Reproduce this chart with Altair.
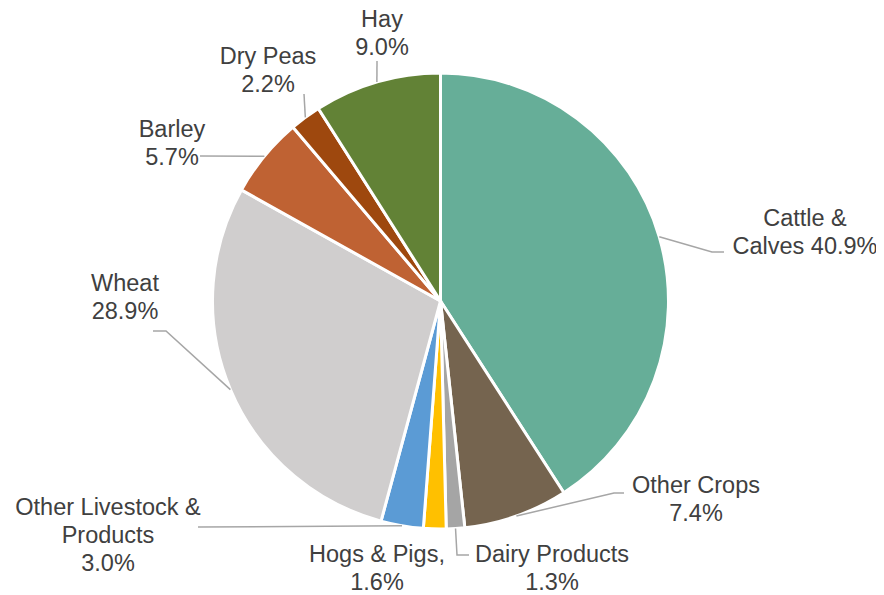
import altair as alt
import pandas as pd
import numpy as np

# ---- data ----
categories = ["Cattle & Calves", "Other Crops", "Dairy Products", "Hogs & Pigs",
              "Other Livestock & Products", "Wheat", "Barley", "Dry Peas", "Hay"]
values = [40.9, 7.4, 1.3, 1.6, 3.0, 28.9, 5.7, 2.2, 9.0]
colors = ["#66AE98", "#75644F", "#A5A5A5", "#FFC000", "#5B9BD5",
          "#D0CECE", "#BF6233", "#9E480E", "#628236"]
name_lines = [["Cattle &", "Calves {p}"], ["Other Crops", "{p}"], ["Dairy Products", "{p}"],
              ["Hogs & Pigs,", "{p}"], ["Other Livestock &", "Products", "{p}"],
              ["Wheat", "{p}"], ["Barley", "{p}"], ["Dry Peas", "{p}"], ["Hay", "{p}"]]

# ---- layout (chart pixels) ----
W, H = 868, 583
CX, CY, R = 432.5, 293.0, 228.0
LINE_H = 28
label_anchor = [(797, 218), (688, 485), (544, 554), (369, 554), (100, 507),
                (117, 283), (164, 129), (260, 56), (374, 19)]
leader_tail = [[(704, 244), (716, 244)], [(606, 485), (616, 485)], [(449, 547), (461, 547)],
               [], [(190, 519)], [(158, 323), (145, 323)], [(192, 148)], [(296, 86)], [(369, 53)]]

df = pd.DataFrame({"category": categories, "value": values, "order": range(len(values))})

total = sum(values)
cum = np.cumsum([0] + values[:-1])
text_rows, line_rows = [], []
for i, cat in enumerate(categories):
    pct = f"{values[i]:.1f}%"
    ax, ay = label_anchor[i]
    for k, ln in enumerate(name_lines[i]):
        text_rows.append({"x": ax, "y": ay + k * LINE_H, "t": ln.format(p=pct)})
    if leader_tail[i]:
        mid = (cum[i] + values[i] / 2) / total * 2 * np.pi
        pts = [(CX + R * np.sin(mid), CY - R * np.cos(mid))] + leader_tail[i]
        for j, (px, py) in enumerate(pts):
            line_rows.append({"cat": cat, "j": j, "x": px, "y": py})

tdf = pd.DataFrame(text_rows)
ldf = pd.DataFrame(line_rows)

xs = alt.Scale(domain=[0, W], nice=False, zero=False)
ys = alt.Scale(domain=[0, H], nice=False, zero=False, reverse=True)

pie = alt.Chart(df).mark_arc(radius=R, stroke="white", strokeWidth=3).encode(
    theta=alt.Theta("value:Q", stack=True),
    order=alt.Order("order:Q"),
    color=alt.Color("category:N", scale=alt.Scale(domain=categories, range=colors), legend=None),
    x=alt.value(CX), y=alt.value(CY),
)

leaders = alt.Chart(ldf).mark_line(color="#A6A6A6", strokeWidth=1.5).encode(
    x=alt.X("x:Q", scale=xs, axis=None),
    y=alt.Y("y:Q", scale=ys, axis=None),
    detail="cat:N",
    order="j:Q",
)

texts = alt.Chart(tdf).mark_text(font="Liberation Sans", fontSize=23.5, color="#404040",
                                 align="center", baseline="alphabetic").encode(
    x=alt.X("x:Q", scale=xs, axis=None),
    y=alt.Y("y:Q", scale=ys, axis=None),
    text="t:N",
)

chart = alt.layer(pie, leaders, texts).properties(
    width=W, height=H, padding=0, autosize=alt.AutoSizeParams(type="none")
).configure_view(strokeWidth=0)

chart.save("out.html", embed_options={"renderer": "svg", "actions": False})
